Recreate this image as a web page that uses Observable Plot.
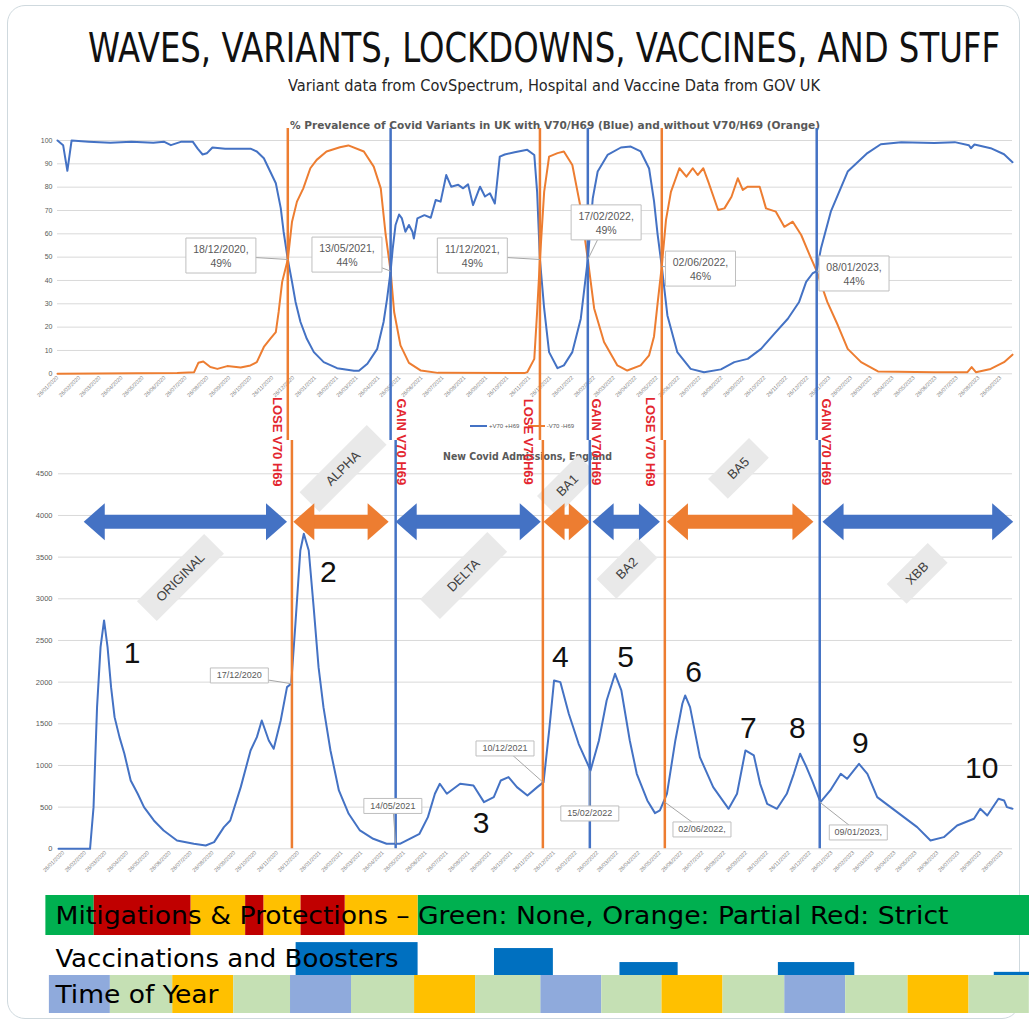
<!DOCTYPE html>
<html><head><meta charset="utf-8">
<script src="https://cdn.jsdelivr.net/npm/d3@7"></script>
<script src="https://cdn.jsdelivr.net/npm/@observablehq/plot@0.6"></script>
<style>
html,body{margin:0;padding:0;background:#fff;}
#root{position:relative;width:1029px;height:1028px;overflow:hidden;background:#fff;font-family:"Liberation Sans",Arial,sans-serif;}
.abs{position:absolute;}
.card{position:absolute;left:7px;top:5px;width:1013px;height:1014px;border:1.5px solid #cfd9de;border-radius:18px;box-sizing:border-box;}
.fit{position:absolute;white-space:nowrap;transform-origin:0 0;line-height:1;}
.legend{position:absolute;font-size:6px;color:#595959;white-space:nowrap;}
.legend span.sw{display:inline-block;width:17px;height:2px;vertical-align:middle;margin-right:2px;}
</style></head><body><div id="root"></div>
<script>
// ---------------- DATA ----------------
// % prevalence, variants WITH V70/H69 (blue)
const withV70 = [
["2020-01-26",100],["2020-02-03",98],["2020-02-09",87],["2020-02-15",100],["2020-03-10",99.5],["2020-04-10",99],
["2020-05-10",99.5],["2020-06-10",99],["2020-06-25",99.5],["2020-07-05",98],["2020-07-20",99.5],["2020-08-05",99.5],
["2020-08-12",96.5],["2020-08-19",94],["2020-08-25",94.5],["2020-09-02",97],["2020-09-20",96.5],["2020-10-17",96.5],
["2020-10-26",96.5],["2020-11-04",95.3],["2020-11-14",92.4],["2020-11-23",86.7],["2020-12-01",81.7],["2020-12-08",71],
["2020-12-12",61],["2020-12-18",49],["2020-12-24",39.4],["2020-12-29",30.8],["2021-01-05",22.2],["2021-01-14",15],
["2021-01-24",9.3],["2021-02-07",5],["2021-02-26",2.4],["2021-03-22",1.3],["2021-03-29",1.3],["2021-04-10",4.3],
["2021-04-24",10.7],["2021-05-03",22.2],["2021-05-08",32.2],["2021-05-13",44],["2021-05-16",53.7],["2021-05-20",63.8],
["2021-05-25",68.3],["2021-05-29",66.6],["2021-06-03",60.9],["2021-06-08",63.8],["2021-06-13",60.9],["2021-06-15",58],
["2021-06-20",66.6],["2021-06-30",68],["2021-07-09",66.9],["2021-07-16",74.5],["2021-07-23",73.8],["2021-07-31",85.2],
["2021-08-07",80.2],["2021-08-17",81],["2021-08-24",79.5],["2021-08-31",81.2],["2021-09-07",72.3],["2021-09-17",80.2],
["2021-09-24",76],["2021-10-01",77.4],["2021-10-08",73],["2021-10-15",93.1],["2021-10-22",94],["2021-11-05",95],
["2021-11-23",96],["2021-12-03",93.8],["2021-12-07",78],["2021-12-11",49],["2021-12-17",28],["2021-12-24",9.3],
["2022-01-05",2.4],["2022-01-14",3.6],["2022-01-26",9.3],["2022-02-07",23.6],["2022-02-17",49],["2022-02-24",75.2],
["2022-03-03",86.7],["2022-03-17",93.8],["2022-04-05",97],["2022-04-19",97.4],["2022-05-03",95.3],["2022-05-15",88],
["2022-05-22",74],["2022-05-27",60],["2022-06-02",46],["2022-06-10",25],["2022-06-24",9.3],["2022-07-13",2.1],
["2022-08-01",0.7],["2022-08-25",1.9],["2022-09-13",5],["2022-10-02",6.4],["2022-10-21",10.7],["2022-11-09",17.2],
["2022-11-28",23.6],["2022-12-14",30.8],["2022-12-24",39.4],["2023-01-02",43],["2023-01-08",44],["2023-01-14",53.7],
["2023-01-28",69.5],["2023-02-21",86.7],["2023-03-21",94.6],["2023-04-09",98.4],["2023-05-08",99.3],["2023-06-24",98.9],
["2023-07-23",99.3],["2023-08-12",98],["2023-08-15",96.7],["2023-08-20",98.3],["2023-09-12",96.7],["2023-10-01",94.1],
["2023-10-13",90.7]
];
// % prevalence, variants WITHOUT V70/H69 (orange)
const withoutV70 = [
["2020-01-26",0],["2020-07-14",0.3],["2020-08-07",0.7],["2020-08-13",4.7],["2020-08-20",5.3],["2020-08-30",2.9],
["2020-09-09",2.1],["2020-09-23",3.3],["2020-10-12",2.7],["2020-10-26",3.6],["2020-11-04",5],["2020-11-14",11.5],
["2020-11-23",15],["2020-12-01",17.9],["2020-12-05",26.5],["2020-12-10",39.4],["2020-12-18",49],["2020-12-24",65.2],
["2020-12-31",73.8],["2021-01-09",79.5],["2021-01-19",88.1],["2021-01-28",91.7],["2021-02-11",95.3],["2021-03-02",97.1],
["2021-03-14",97.9],["2021-04-05",95.3],["2021-04-19",88.8],["2021-04-29",79.5],["2021-05-06",59.5],["2021-05-13",44],
["2021-05-18",26.5],["2021-05-27",12.2],["2021-06-08",4.7],["2021-06-25",1.4],["2021-07-19",0.4],["2021-11-19",0.3],
["2021-11-23",0.7],["2021-12-03",6.4],["2021-12-07",26.5],["2021-12-11",49],["2021-12-17",78],["2021-12-24",93.1],
["2022-01-05",94.6],["2022-01-14",95.3],["2022-01-26",89.5],["2022-02-07",70.9],["2022-02-17",49],["2022-02-26",28],
["2022-03-12",13.6],["2022-03-31",3.6],["2022-04-14",1.4],["2022-05-03",3.6],["2022-05-15",7.9],["2022-05-22",16],
["2022-05-27",30],["2022-06-02",46],["2022-06-08",66],["2022-06-15",78],["2022-06-27",88.1],["2022-07-07",84.5],
["2022-07-16",88.1],["2022-07-23",85.2],["2022-07-31",88.1],["2022-08-07",82.4],["2022-08-21",70.2],["2022-08-30",70.9],
["2022-09-09",75.9],["2022-09-18",83.8],["2022-09-25",78.8],["2022-10-02",80.2],["2022-10-19",80.2],["2022-10-28",70.9],
["2022-11-11",69.5],["2022-11-23",63],["2022-12-05",65.2],["2022-12-17",59.5],["2022-12-29",50.9],["2023-01-08",44],
["2023-01-23",30.8],["2023-02-07",20.8],["2023-02-21",10.7],["2023-03-12",5],["2023-04-05",1],["2023-06-24",0.7],
["2023-08-10",0.7],["2023-08-16",2.9],["2023-08-22",0.7],["2023-09-12",2.1],["2023-10-01",5],["2023-10-13",8.2]
];
// New Covid admissions, England
const admissions = [
["2020-01-19",0],["2020-03-04",0],["2020-03-09",500],["2020-03-14",1700],["2020-03-19",2420],["2020-03-24",2740],
["2020-03-29",2420],["2020-04-03",1940],["2020-04-08",1580],["2020-04-15",1340],["2020-04-22",1140],["2020-05-01",820],
["2020-05-11",660],["2020-05-20",500],["2020-06-03",340],["2020-06-17",220],["2020-07-06",100],["2020-07-30",60],
["2020-08-16",40],["2020-08-28",80],["2020-09-11",260],["2020-09-20",340],["2020-10-05",740],["2020-10-19",1180],
["2020-10-28",1340],["2020-11-04",1540],["2020-11-14",1300],["2020-11-21",1200],["2020-12-01",1540],["2020-12-10",1940],
["2020-12-16",1980],["2020-12-22",2700],["2020-12-29",3580],["2021-01-03",3780],["2021-01-10",3580],["2021-01-17",2900],
["2021-01-24",2180],["2021-01-31",1700],["2021-02-10",1180],["2021-02-22",700],["2021-03-08",420],["2021-03-24",220],
["2021-04-12",120],["2021-05-01",60],["2021-05-20",60],["2021-06-03",120],["2021-06-17",180],["2021-06-29",380],
["2021-07-09",660],["2021-07-16",780],["2021-07-26",660],["2021-08-14",780],["2021-09-02",760],["2021-09-17",560],
["2021-10-01",620],["2021-10-11",820],["2021-10-22",860],["2021-11-03",740],["2021-11-18",640],["2021-12-02",740],
["2021-12-11",800],["2021-12-19",1420],["2021-12-26",2020],["2022-01-04",2000],["2022-01-16",1620],["2022-01-30",1260],
["2022-02-16",940],["2022-02-28",1300],["2022-03-11",1780],["2022-03-23",2100],["2022-04-01",1900],["2022-04-13",1300],
["2022-04-23",900],["2022-05-08",580],["2022-05-19",428],["2022-05-26",460],["2022-06-05",660],["2022-06-17",1300],
["2022-06-27",1740],["2022-07-01",1840],["2022-07-08",1700],["2022-07-22",1100],["2022-08-10",740],["2022-09-01",480],
["2022-09-13",660],["2022-09-25",1180],["2022-10-07",1120],["2022-10-16",780],["2022-10-26",540],["2022-11-09",480],
["2022-11-23",660],["2022-12-03",900],["2022-12-12",1140],["2022-12-20",1000],["2022-12-29",820],["2023-01-10",560],
["2023-01-24",700],["2023-02-08",900],["2023-02-17",840],["2023-03-06",1020],["2023-03-18",900],["2023-04-01",620],
["2023-04-20",500],["2023-05-09",380],["2023-05-28",260],["2023-06-16",100],["2023-07-05",140],["2023-07-24",280],
["2023-08-17",360],["2023-08-26",480],["2023-09-05",400],["2023-09-21",600],["2023-09-29",580],["2023-10-03",500],
["2023-10-11",480]
];
// V70/H69 events
const eventLabels = ["LOSE V70 H69","GAIN V70 H69","LOSE V70H69","GAIN V70 H69","LOSE V70 H69","GAIN V70 H69"];
const eventPctDates = ["2020-12-18","2021-05-13","2021-12-11","2022-02-17","2022-06-02","2023-01-08"];
const eventPctValues = [49,44,49,49,46,44];
const eventAdmDates = ["2020-12-17","2021-05-14","2021-12-10","2022-02-15","2022-06-02","2023-01-09"];
const eventAdmValues = [1980,60,800,940,560,560];
const eventAdmTexts = ["17/12/2020","14/05/2021","10/12/2021","15/02/2022","02/06/2022,","09/01/2023,"];
// callout label placement (data space)
const topNoteDates = ["2020-09-14","2021-03-12","2021-09-06","2022-03-15","2022-07-27","2023-03-02"];
const topNoteValues = [50.7,51.1,50.7,64.9,45.1,43];
const admNoteDates = ["2020-10-03","2021-05-10","2021-10-17","2022-02-15","2022-07-25","2023-03-05"];
const admNoteValues = [2080,514,1204,424,232,196];
// variants (arrows)
const variantNames = ["ORIGINAL","ALPHA","DELTA","BA1","BA2","BA5","XBB"];
const variantStart = ["2020-02-24","2020-12-19","2021-05-14","2021-12-11","2022-02-19","2022-06-05","2023-01-13"];
const variantEnd = ["2020-12-10","2021-05-04","2021-12-07","2022-02-15","2022-05-26","2022-12-31","2023-10-12"];
const variantWithV70 = [true,false,true,false,true,false,true];
const variantLabelDates = ["2020-07-11","2021-02-28","2021-08-19","2022-01-14","2022-04-09","2022-09-15","2023-05-28"];
const variantLabelValues = [3256,4564,3280,4360,3364,4564,3304];
// wave numbers
const waveLabels = ["1","2","3","4","5","6","7","8","9","10"];
const waveDates = ["2020-05-03","2021-02-07","2021-09-13","2022-01-04","2022-04-07","2022-07-13","2022-09-29","2022-12-08","2023-03-08","2023-08-28"];
const waveValues = [2344,3316,306,2296,2296,2116,1444,1444,1264,964];
// mitigations strip
const mitigationStart = ["2020-01-01","2020-03-10","2020-07-26","2020-10-12","2020-11-07","2020-12-30","2021-03-03","2021-06-15"];
const mitigationEnd   = ["2020-03-10","2020-07-26","2020-10-12","2020-11-07","2020-12-30","2021-03-03","2021-06-15","2023-11-05"];
const mitigationLevel = ["None","Strict","Partial","Strict","Partial","Strict","Partial","None"];
// vaccinations strip
const vaccStart = ["2020-12-23","2021-10-02","2022-03-30","2022-11-11","2023-09-15"];
const vaccEnd   = ["2021-06-15","2021-12-25","2022-06-21","2023-02-28","2023-11-05"];
const vaccLevel = [94,77,37,37,9];
// time of year strip
const seasonBounds = ["2020-01-06","2020-04-02","2020-06-30","2020-09-25","2020-12-15","2021-03-12","2021-06-10","2021-09-05",
  "2021-12-07","2022-03-04","2022-05-29","2022-08-24","2022-11-20","2023-02-15","2023-05-15","2023-08-10","2023-11-04"];
const seasonCycle = ["Winter","Spring","Summer","Autumn"];
// texts
const titleText = "WAVES, VARIANTS, LOCKDOWNS, VACCINES, AND STUFF";
const subtitleText = "Variant data from CovSpectrum, Hospital and Vaccine Data from GOV UK";
const topTitle = "% Prevalence of Covid Variants in UK with V70/H69 (Blue) and without V70/H69 (Orange)";
const bottomTitle = "New Covid Admissions, England";
const stripTexts = ["Mitigations & Protections \u2013 Green: None, Orange: Partial Red: Strict","Vaccinations and Boosters","Time of Year"];
const seriesNames = ["+V70 +H69","-V70 -H69"];

// ---------------- STYLE ----------------
const W = 1029;
const BLUE = "#4472c4", ORANGE = "#ed7d31", REDTXT = "#e3262f", GRID = "#d9d9d9";
const NARROW = '"Liberation Sans Narrow","DejaVu Sans Condensed","Liberation Sans",Arial,sans-serif';
const SANS = '"Liberation Sans",Arial,sans-serif';
const D = s => new Date(s + "T00:00:00Z");
const fmt = d3.utcFormat("%d/%m/%Y");
const xTicks = d3.utcMonth.range(D("2020-01-01"), D("2023-10-01")).map(m => d3.utcDay.offset(m, 25));
const topDomain = [D("2020-01-26"), D("2023-10-13")];
const admDomain = [D("2020-01-19"), D("2023-10-11")];
const ARROW_Y = 3925;
const rectSym = (w, h) => ({draw(ctx) { ctx.rect(-w / 2, -h / 2, w, h); }});
const headSym = (len, half) => ({draw(ctx) { ctx.moveTo(0, 0); ctx.lineTo(-len, -half); ctx.lineTo(-len, half); ctx.closePath(); }});
const pt = d => ({date: D(d[0]), value: d[1]});

const root = document.getElementById("root");
const card = document.createElement("div"); card.className = "card"; root.appendChild(card);

function fitDiv(text, {left, top, width, size, weight = "normal", color = "#000", family = NARROW}) {
  const el = document.createElement("div");
  el.className = "fit"; el.textContent = text;
  Object.assign(el.style, {left: left + "px", top: top + "px", fontSize: size + "px", fontWeight: weight, color, fontFamily: family});
  root.appendChild(el);
  const w = el.getBoundingClientRect().width;
  el.style.transform = `scaleX(${width / w})`;
  return el;
}
function place(svg, top) {
  const wrap = document.createElement("div");
  wrap.className = "abs"; wrap.style.left = "0px"; wrap.style.top = top + "px";
  wrap.appendChild(svg); root.appendChild(wrap);
}
const svgStyle = {background: "transparent", overflow: "visible", fontFamily: SANS, color: "#595959"};

// Titles
fitDiv(titleText, {left: 88, top: 28, width: 912, size: 40, color: "#111"});
fitDiv(subtitleText, {left: 288, top: 79, width: 532, size: 15, color: "#262626"});
fitDiv(topTitle, {left: 290, top: 121, width: 530, size: 10, weight: "bold", color: "#595959"});
fitDiv(bottomTitle, {left: 443, top: 451, width: 169, size: 10.5, weight: "bold", color: "#595959"});

// legend of top chart
const lg = document.createElement("div");
lg.className = "legend"; lg.style.left = "470px"; lg.style.top = "423px";
lg.innerHTML = `<span class="sw" style="background:${BLUE}"></span>${seriesNames[0]}&nbsp;&nbsp;&nbsp;&nbsp;&nbsp;<span class="sw" style="background:${ORANGE}"></span>${seriesNames[1]}`;
root.appendChild(lg);

// ---------------- TOP CHART ----------------
const topEvents = eventLabels.map((t, i) => ({
  label: t, lose: t.startsWith("LOSE"), date: D(eventPctDates[i]), value: eventPctValues[i],
  lx: D(topNoteDates[i]), ly: topNoteValues[i], text: `${fmt(D(eventPctDates[i]))},\n${eventPctValues[i]}%`
}));
const topChart = Plot.plot({
  width: W, height: 330, marginLeft: 57, marginRight: 17, marginTop: 30, marginBottom: 66.7,
  style: svgStyle,
  x: {type: "utc", domain: topDomain},
  y: {domain: [0, 100]},
  marks: [
    Plot.gridY({ticks: d3.range(0, 101, 10), stroke: GRID, strokeOpacity: 1}),
    Plot.axisY({ticks: d3.range(0, 101, 10), tickSize: 0, tickPadding: 5, fontSize: 7, label: null}),
    Plot.axisX({ticks: xTicks, tickFormat: fmt, tickRotate: -45, tickSize: 0, tickPadding: 3, fontSize: 5.5, label: null, fill: "#7f7f7f"}),
    Plot.line(withoutV70.map(pt), {x: "date", y: "value", stroke: ORANGE, strokeWidth: 2}),
    Plot.line(withV70.map(pt), {x: "date", y: "value", stroke: BLUE, strokeWidth: 2}),
    Plot.ruleX(topEvents.filter(d => d.lose), {x: "date", stroke: ORANGE, strokeWidth: 2.5, insetTop: -12, insetBottom: -66.7}),
    Plot.ruleX(topEvents.filter(d => !d.lose), {x: "date", stroke: BLUE, strokeWidth: 2.5, insetTop: -12, insetBottom: -66.7}),
    Plot.link(topEvents, {x1: "lx", y1: "ly", x2: "date", y2: "value", stroke: "#a6a6a6", strokeWidth: 1}),
    Plot.dot(topEvents, {x: "lx", y: "ly", symbol: rectSym(70, 35), fill: "white", stroke: "#bfbfbf", strokeWidth: 1}),
    Plot.text(topEvents, {x: "lx", y: "ly", text: "text", fontSize: 10.5, fill: "#595959", lineHeight: 1.35})
  ]
});
place(topChart, 110);

// ---------------- BOTTOM CHART ----------------
const admEvents = eventLabels.map((t, i) => ({
  label: t, lose: t.startsWith("LOSE"), date: D(eventAdmDates[i]), value: eventAdmValues[i],
  lx: D(admNoteDates[i]), ly: admNoteValues[i], text: eventAdmTexts[i]
}));
const arrows = variantNames.map((n, i) => ({
  name: n, start: D(variantStart[i]), end: D(variantEnd[i]), withV70: variantWithV70[i],
  lx: D(variantLabelDates[i]), ly: variantLabelValues[i]
}));
const waves = waveLabels.map((t, i) => ({text: t, date: D(waveDates[i]), value: waveValues[i]}));
const arrowMarks = [];
for (const [flag, color] of [[true, BLUE], [false, ORANGE]]) {
  const a = arrows.filter(d => d.withV70 === flag);
  arrowMarks.push(
    Plot.ruleY(a, {x1: "start", x2: "end", y: () => ARROW_Y, stroke: color, strokeWidth: 14, insetLeft: 14, insetRight: 14}),
    Plot.dot(a, {x: "end", y: () => ARROW_Y, symbol: headSym(21, 18.5), fill: color, stroke: "none"}),
    Plot.dot(a, {x: "start", y: () => ARROW_Y, symbol: headSym(21, 18.5), rotate: 180, fill: color, stroke: "none"})
  );
}
const bottomChart = Plot.plot({
  width: W, height: 440, marginLeft: 58, marginRight: 17, marginTop: 33.3, marginBottom: 31.7,
  style: svgStyle,
  x: {type: "utc", domain: admDomain},
  y: {domain: [0, 4500]},
  marks: [
    Plot.gridY({ticks: d3.range(0, 4501, 500), stroke: GRID, strokeOpacity: 1}),
    Plot.axisY({ticks: d3.range(0, 4501, 500), tickFormat: d => String(d), tickSize: 0, tickPadding: 6, fontSize: 7.5, label: null}),
    Plot.axisX({ticks: xTicks, tickFormat: fmt, tickRotate: -45, tickSize: 0, tickPadding: 3, fontSize: 5.5, label: null, fill: "#7f7f7f"}),
    Plot.dot(arrows.filter(d => d.name.length > 3), {x: "lx", y: "ly", symbol: rectSym(95, 28), rotate: -45, fill: "#e9e9e9", stroke: "none"}),
    Plot.dot(arrows.filter(d => d.name.length <= 3), {x: "lx", y: "ly", symbol: rectSym(58, 28), rotate: -45, fill: "#e9e9e9", stroke: "none"}),
    Plot.text(arrows, {x: "lx", y: "ly", text: "name", rotate: -45, fontSize: 13, fill: "#404040"}),
    Plot.line(admissions.map(pt), {x: "date", y: "value", stroke: BLUE, strokeWidth: 2}),
    Plot.ruleX(admEvents.filter(d => d.lose), {x: "date", stroke: ORANGE, strokeWidth: 2.5, insetTop: -33.3}),
    Plot.ruleX(admEvents.filter(d => !d.lose), {x: "date", stroke: BLUE, strokeWidth: 2.5, insetTop: -33.3}),
    ...arrowMarks,
    Plot.text(waves, {x: "date", y: "value", text: "text", fontSize: 30, fill: "#111", fontFamily: SANS}),
    Plot.link(admEvents, {x1: "lx", y1: "ly", x2: "date", y2: "value", stroke: "#a6a6a6", strokeWidth: 1}),
    Plot.dot(admEvents, {x: "lx", y: "ly", symbol: rectSym(58, 15), fill: "white", stroke: "#bfbfbf", strokeWidth: 1}),
    Plot.text(admEvents, {x: "lx", y: "ly", text: "text", fontSize: 9, fill: "#595959"}),
    Plot.text(admEvents.filter(d => d.lose), {x: "date", text: "label", frameAnchor: "top", dy: -32, dx: -10, rotate: 90, fill: REDTXT, fontWeight: "bold", fontSize: 13}),
    Plot.text(admEvents.filter(d => !d.lose), {x: "date", text: "label", frameAnchor: "top", dy: -32, dx: 11, rotate: 90, fill: REDTXT, fontWeight: "bold", fontSize: 13})
  ]
});
place(bottomChart, 440);

// ---------------- STRIPS ----------------
function strip(top, height, marks, y, textWidth) {
  const svg = Plot.plot({
    width: W, height, marginLeft: 58, marginRight: 17, marginTop: 0, marginBottom: 0,
    style: {...svgStyle, color: "#000"},
    x: {type: "utc", domain: admDomain, axis: null},
    y: y ? {...y, axis: null} : undefined,
    marks
  });
  svg.querySelectorAll('g[aria-label="text"] text').forEach(t => {
    t.setAttribute("textLength", textWidth);
    t.setAttribute("lengthAdjust", "spacingAndGlyphs");
  });
  place(svg, top);
}
const mitColor = {None: "#00b050", Partial: "#ffc000", Strict: "#c00000"};
const mitigations = mitigationStart.map((s, i) => ({start: D(s), end: D(mitigationEnd[i]), level: mitigationLevel[i]}));
strip(895, 40, [
  ...Object.keys(mitColor).map(k => Plot.rect(mitigations.filter(d => d.level === k), {x1: "start", x2: "end", fill: mitColor[k]})),
  Plot.text([stripTexts[0]], {text: d => d, frameAnchor: "left", textAnchor: "start", dx: -3, fontSize: 25, fill: "#000", fontFamily: NARROW})
], null, 893);
const vaccs = vaccStart.map((s, i) => ({start: D(s), end: D(vaccEnd[i]), level: vaccLevel[i]}));
strip(940, 35, [
  Plot.rect(vaccs, {x1: "start", x2: "end", y1: () => 0, y2: "level", fill: "#0070c0"}),
  Plot.text([stripTexts[1]], {text: d => d, frameAnchor: "left", textAnchor: "start", dx: -3, dy: 1, fontSize: 25, fill: "#000", fontFamily: NARROW})
], {domain: [0, 100]}, 343);
const seasonColor = {Winter: "#8faadc", Spring: "#c5e0b4", Summer: "#ffc000", Autumn: "#c5e0b4"};
const seasons = seasonBounds.slice(0, -1).map((s, i) => ({start: D(s), end: D(seasonBounds[i + 1]), season: seasonCycle[i % 4]}));
strip(975, 38, [
  ...Object.keys(seasonColor).map(k => Plot.rect(seasons.filter(d => d.season === k), {x1: "start", x2: "end", fill: seasonColor[k]})),
  Plot.text([stripTexts[2]], {text: d => d, frameAnchor: "left", textAnchor: "start", dx: -3, dy: 0, fontSize: 25, fill: "#000", fontFamily: NARROW})
], null, 163);
</script></body></html>
